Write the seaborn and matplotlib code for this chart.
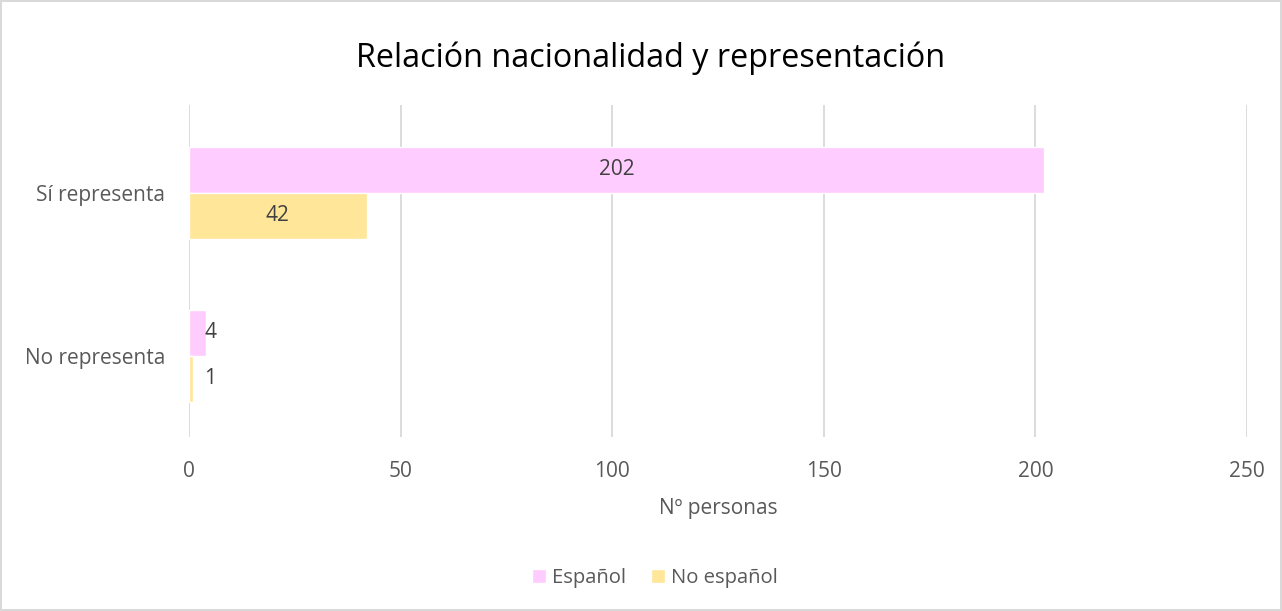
import matplotlib
matplotlib.use("Agg")
import matplotlib.pyplot as plt
import seaborn as sns
import pandas as pd

categories = ["Sí representa", "No representa"]
series = ["Español", "No español"]
espanol = [202, 4]
no_espanol = [42, 1]
xticks = [0, 50, 100, 150, 200, 250]

df = pd.DataFrame({
    "cat": categories * 2,
    "serie": [series[0]] * 2 + [series[1]] * 2,
    "val": espanol + no_espanol,
})

sns.set_theme(style="white")
plt.rcParams['font.family'] = ['Open Sans', 'DejaVu Sans']
txt = "#595959"

fig = plt.figure(figsize=(12.82, 6.11), dpi=100)
ax = fig.add_axes([189/1282, 1-437/611, (1247-189)/1282, (437-105)/611])
sns.barplot(data=df, y="cat", x="val", hue="serie", orient="h",
            palette=["#FFCCFF", "#FFE699"], saturation=1, width=0.565, ax=ax,
            order=categories, hue_order=series, legend=True)
ax.set_ylim(1.5, -0.54)

# small values: labels placed just right of the longest small bar in the group
small_x = {}
for cont in ax.containers:
    for r in cont:
        if r.get_width() <= 20:
            key = int(r.get_y() + r.get_height() / 2 > 0.5)
            small_x[key] = max(small_x.get(key, 0), r.get_width())

for cont in ax.containers:
    vals = [r.get_width() for r in cont]
    ax.bar_label(cont, labels=[f"{v:.0f}" if v > 20 else "" for v in vals],
                 label_type="center", fontsize=15, color="#404040")
    for r, v in zip(cont, vals):
        if v <= 20:
            yc = r.get_y() + r.get_height() / 2
            key = int(yc > 0.5)
            ax.annotate(f"{v:.0f}", xy=(small_x[key], yc), xytext=(-1, 0),
                        textcoords="offset points", ha="left", va="center",
                        fontsize=15, color="#404040")

ax.set_xlim(0, 250)
ax.set_xticks(xticks)
ax.set_xticklabels([str(t) for t in xticks])
ax.tick_params(axis="both", labelsize=15, colors=txt, length=0)
ax.tick_params(axis="x", pad=17)
ax.tick_params(axis="y", pad=17)
ax.xaxis.grid(True, color="#D9D9D9", linewidth=1.3)
ax.set_axisbelow(True)
for s in ax.spines.values():
    s.set_visible(False)
ax.set_ylabel("")
ax.set_xlabel("Nº personas", fontsize=15, color=txt, labelpad=12)

leg = ax.legend(loc="center", frameon=False,
                ncol=2, fontsize=14.6, handlelength=0.7, handleheight=0.7,
                columnspacing=1.2, handletextpad=0.3, labelcolor=txt)
leg.set_bbox_to_anchor((655/1282, 1-578/611), transform=fig.transFigure)

fig.text(651/1282, 1-58/611, "Relación nacionalidad y representación",
         ha="center", va="center", fontsize=23.3, color="#000000")

fig.patch.set_edgecolor("#D9D9D9")
fig.patch.set_linewidth(1.5)
fig.savefig("out.png", dpi=100)
